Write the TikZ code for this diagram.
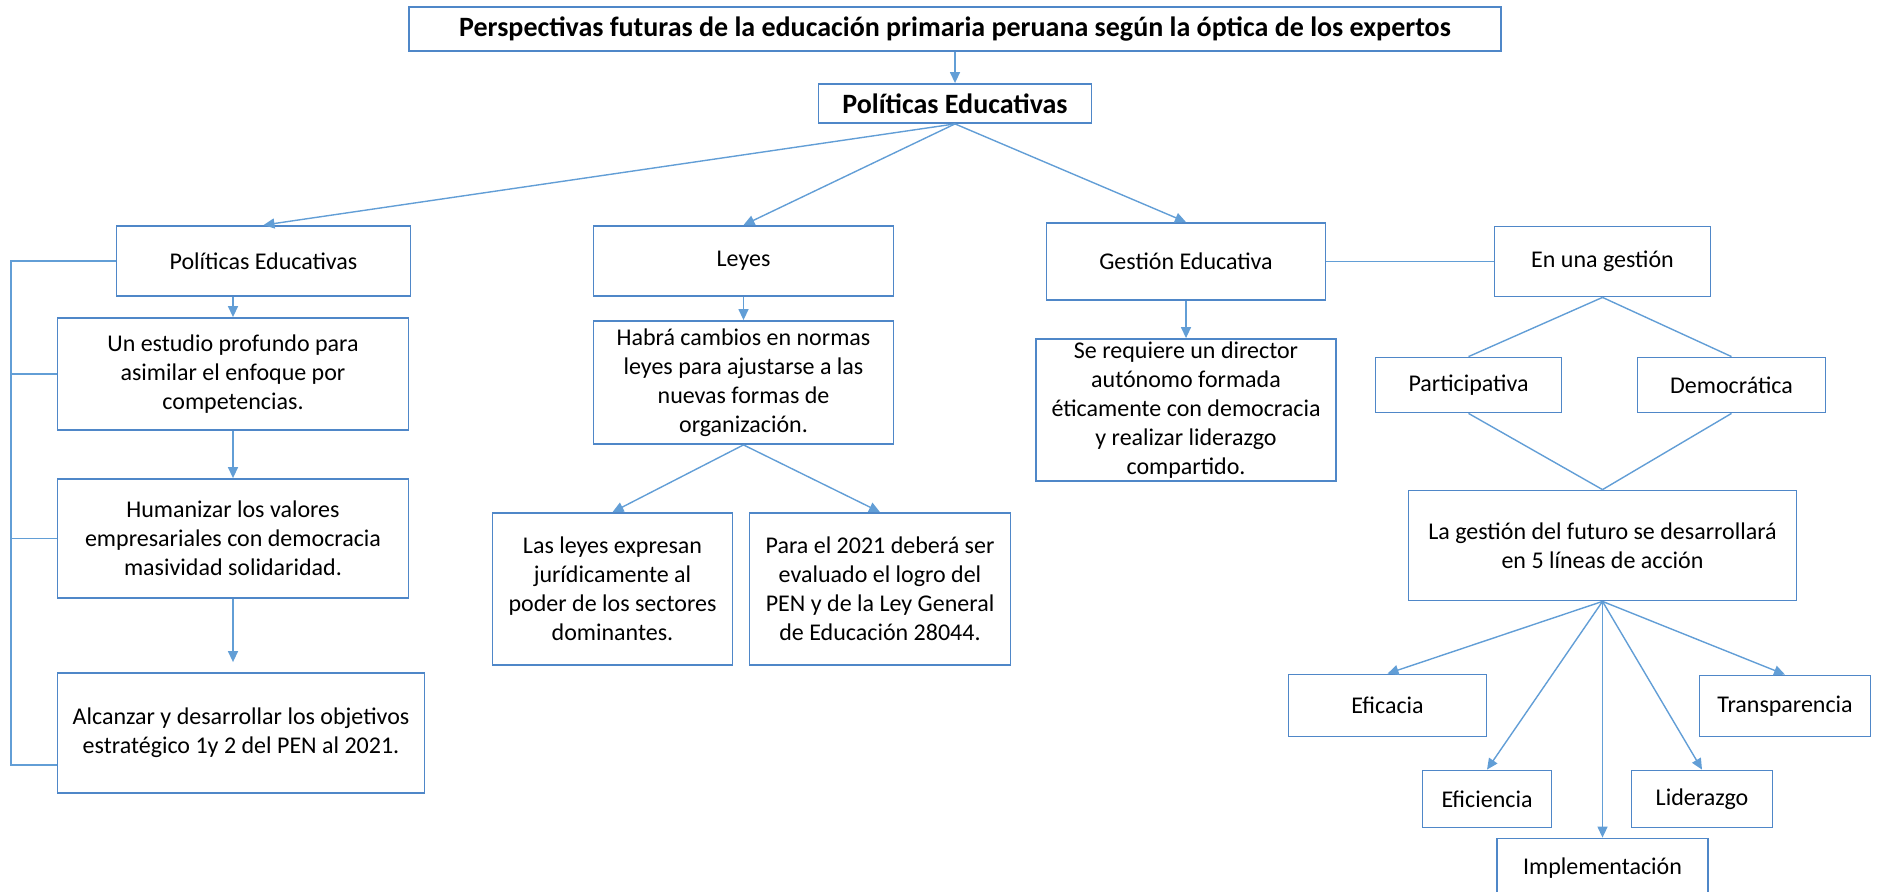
\documentclass[tikz,border=0pt]{standalone}
\usepackage{fontspec}
\setmainfont{Carlito}
\usetikzlibrary{positioning,arrows.meta}

\definecolor{boxblue}{RGB}{79,135,200}
\definecolor{lineblue}{RGB}{98,158,214}

\tikzset{
  box/.style={rectangle,draw=boxblue,line width=1.8pt,align=center,inner sep=0pt,
    font=\fontsize{24}{29}\selectfont},
  boldbox/.style={box,font=\fontsize{28}{34}\selectfont\bfseries},
}

\begin{document}
\begin{tikzpicture}[x=1pt,y=-1pt,on grid,auto,
    >={Triangle[length=11pt,width=10pt]},
    every edge/.style={draw=lineblue,line width=1.4pt}]
   \useasboundingbox (0,0) rectangle (1878,891);
   \node[boldbox,minimum width=1092pt,minimum height=44pt] (title) at (955,29) {Perspectivas futuras de la educación primaria peruana según la óptica de los expertos};
   \node[boldbox,minimum width=273pt,minimum height=39pt] (top) [below=74.5pt of title] {Políticas Educativas};
   \node[box,minimum width=294pt,minimum height=70pt] (poled) [below left=157.5pt and 691.5pt of top] {Políticas Educativas};
   \node[box,minimum width=300pt,minimum height=70pt] (leyes) [below left=157.5pt and 211.5pt of top] {Leyes};
   \node[box,minimum width=279pt,minimum height=77pt] (gested) [below right=158pt and 231pt of top] {Gestión Educativa};
   \node[box,minimum width=216pt,minimum height=70pt] (enuna) [right=416.5pt of gested] {En una gestión};
   % left column
   \node[box,minimum width=351pt,minimum height=112pt] (estudio) [below left=113pt and 30.5pt of poled] {Un estudio profundo para\\ asimilar el enfoque por\\ competencias.};
   \node[box,minimum width=351pt,minimum height=119pt] (humanizar) [below=164.5pt of estudio] {Humanizar los valores\\ empresariales con democracia\\ masividad solidaridad.};
   \node[box,minimum width=367pt,minimum height=120pt] (alcanzar) [below right=194.5pt and 8pt of humanizar] {Alcanzar y desarrollar los objetivos\\ estratégico 1y 2 del PEN al 2021.};
   % leyes column
   \node[box,minimum width=300pt,minimum height=123pt] (habra) [below=121.5pt of leyes] {Habrá cambios en normas\\ leyes para ajustarse a las\\ nuevas formas de\\ organización.};
   \node[box,minimum width=240pt,minimum height=152pt] (lasleyes) [below left=206.5pt and 131pt of habra] {Las leyes expresan\\ jurídicamente al\\ poder de los sectores\\ dominantes.};
   \node[box,minimum width=261pt,minimum height=152pt] (para) [below right=206.5pt and 136.5pt of habra] {Para el 2021 deberá ser\\ evaluado el logro del\\ PEN y de la Ley General\\ de Educación 28044.};
   % gestion column
   \node[box,minimum width=300pt,minimum height=142pt] (director) [below=148.5pt of gested] {Se requiere un director\\ autónomo formada\\ éticamente con democracia\\ y realizar liderazgo\\ compartido.};
   \node[box,minimum width=186pt,minimum height=55pt] (partic) [below left=123.5pt and 134pt of enuna] {Participativa};
   \node[box,minimum width=188pt,minimum height=55pt] (democ) [below right=123.5pt and 129pt of enuna] {Democrática};
   \node[box,minimum width=388pt,minimum height=110pt] (lineas) [below=284pt of enuna] {La gestión del futuro se desarrollará\\ en 5 líneas de acción};
   \node[box,minimum width=198pt,minimum height=62pt] (eficacia) [below left=160pt and 215pt of lineas] {Eficacia};
   \node[box,minimum width=171pt,minimum height=61pt] (transp) [below right=160.5pt and 182.5pt of lineas] {Transparencia};
   \node[box,minimum width=129pt,minimum height=57pt] (eficiencia) [below left=253.5pt and 115.5pt of lineas] {Eficiencia};
   \node[box,minimum width=141pt,minimum height=57pt] (liderazgo) [below right=253.5pt and 99.5pt of lineas] {Liderazgo};
   \node[box,minimum width=211pt,minimum height=60pt] (implem) [below=323pt of lineas] {Implementación};
   \coordinate (bar) at (11,765);
   \path[->]
        (title.south) edge node {} (top.north)
        (top.south) edge node {} (poled.north)
        (top.south) edge node {} (leyes.north)
        (top.south) edge node {} (gested.north)
        (poled.south -| estudio.north) edge node {} (estudio.north)
        (estudio.south) edge node {} (humanizar.north)
        (leyes.south) edge node {} (habra.north)
        (habra.south) edge node {} (lasleyes.north)
        (habra.south) edge node {} (para.north)
        (gested.south) edge node {} (director.north)
        (lineas.south) edge node {} (eficacia.north)
        (lineas.south) edge node {} (eficiencia.north)
        (lineas.south) edge node {} (implem.north)
        (lineas.south) edge node {} (liderazgo.north)
        (lineas.south) edge node {} (transp.north)
        ;
   \path[->,shorten >=10pt]
        (humanizar.south) edge node {} (humanizar.south |- alcanzar.north);
   \path[-]
        (gested.east) edge node {} (enuna.west)
        (enuna.south) edge node {} (partic.north)
        (enuna.south) edge node {} (democ.north)
        (partic.south) edge node {} (lineas.north)
        (democ.south) edge node {} (lineas.north)
        ;
   \draw[lineblue,line width=1.4pt] (poled.west) -| (bar) -- (bar -| alcanzar.west);
   \draw[lineblue,line width=1.4pt] (estudio.west) -- (estudio.west -| bar);
   \draw[lineblue,line width=1.4pt] (humanizar.west) -- (humanizar.west -| bar);
\end{tikzpicture}
\end{document}
